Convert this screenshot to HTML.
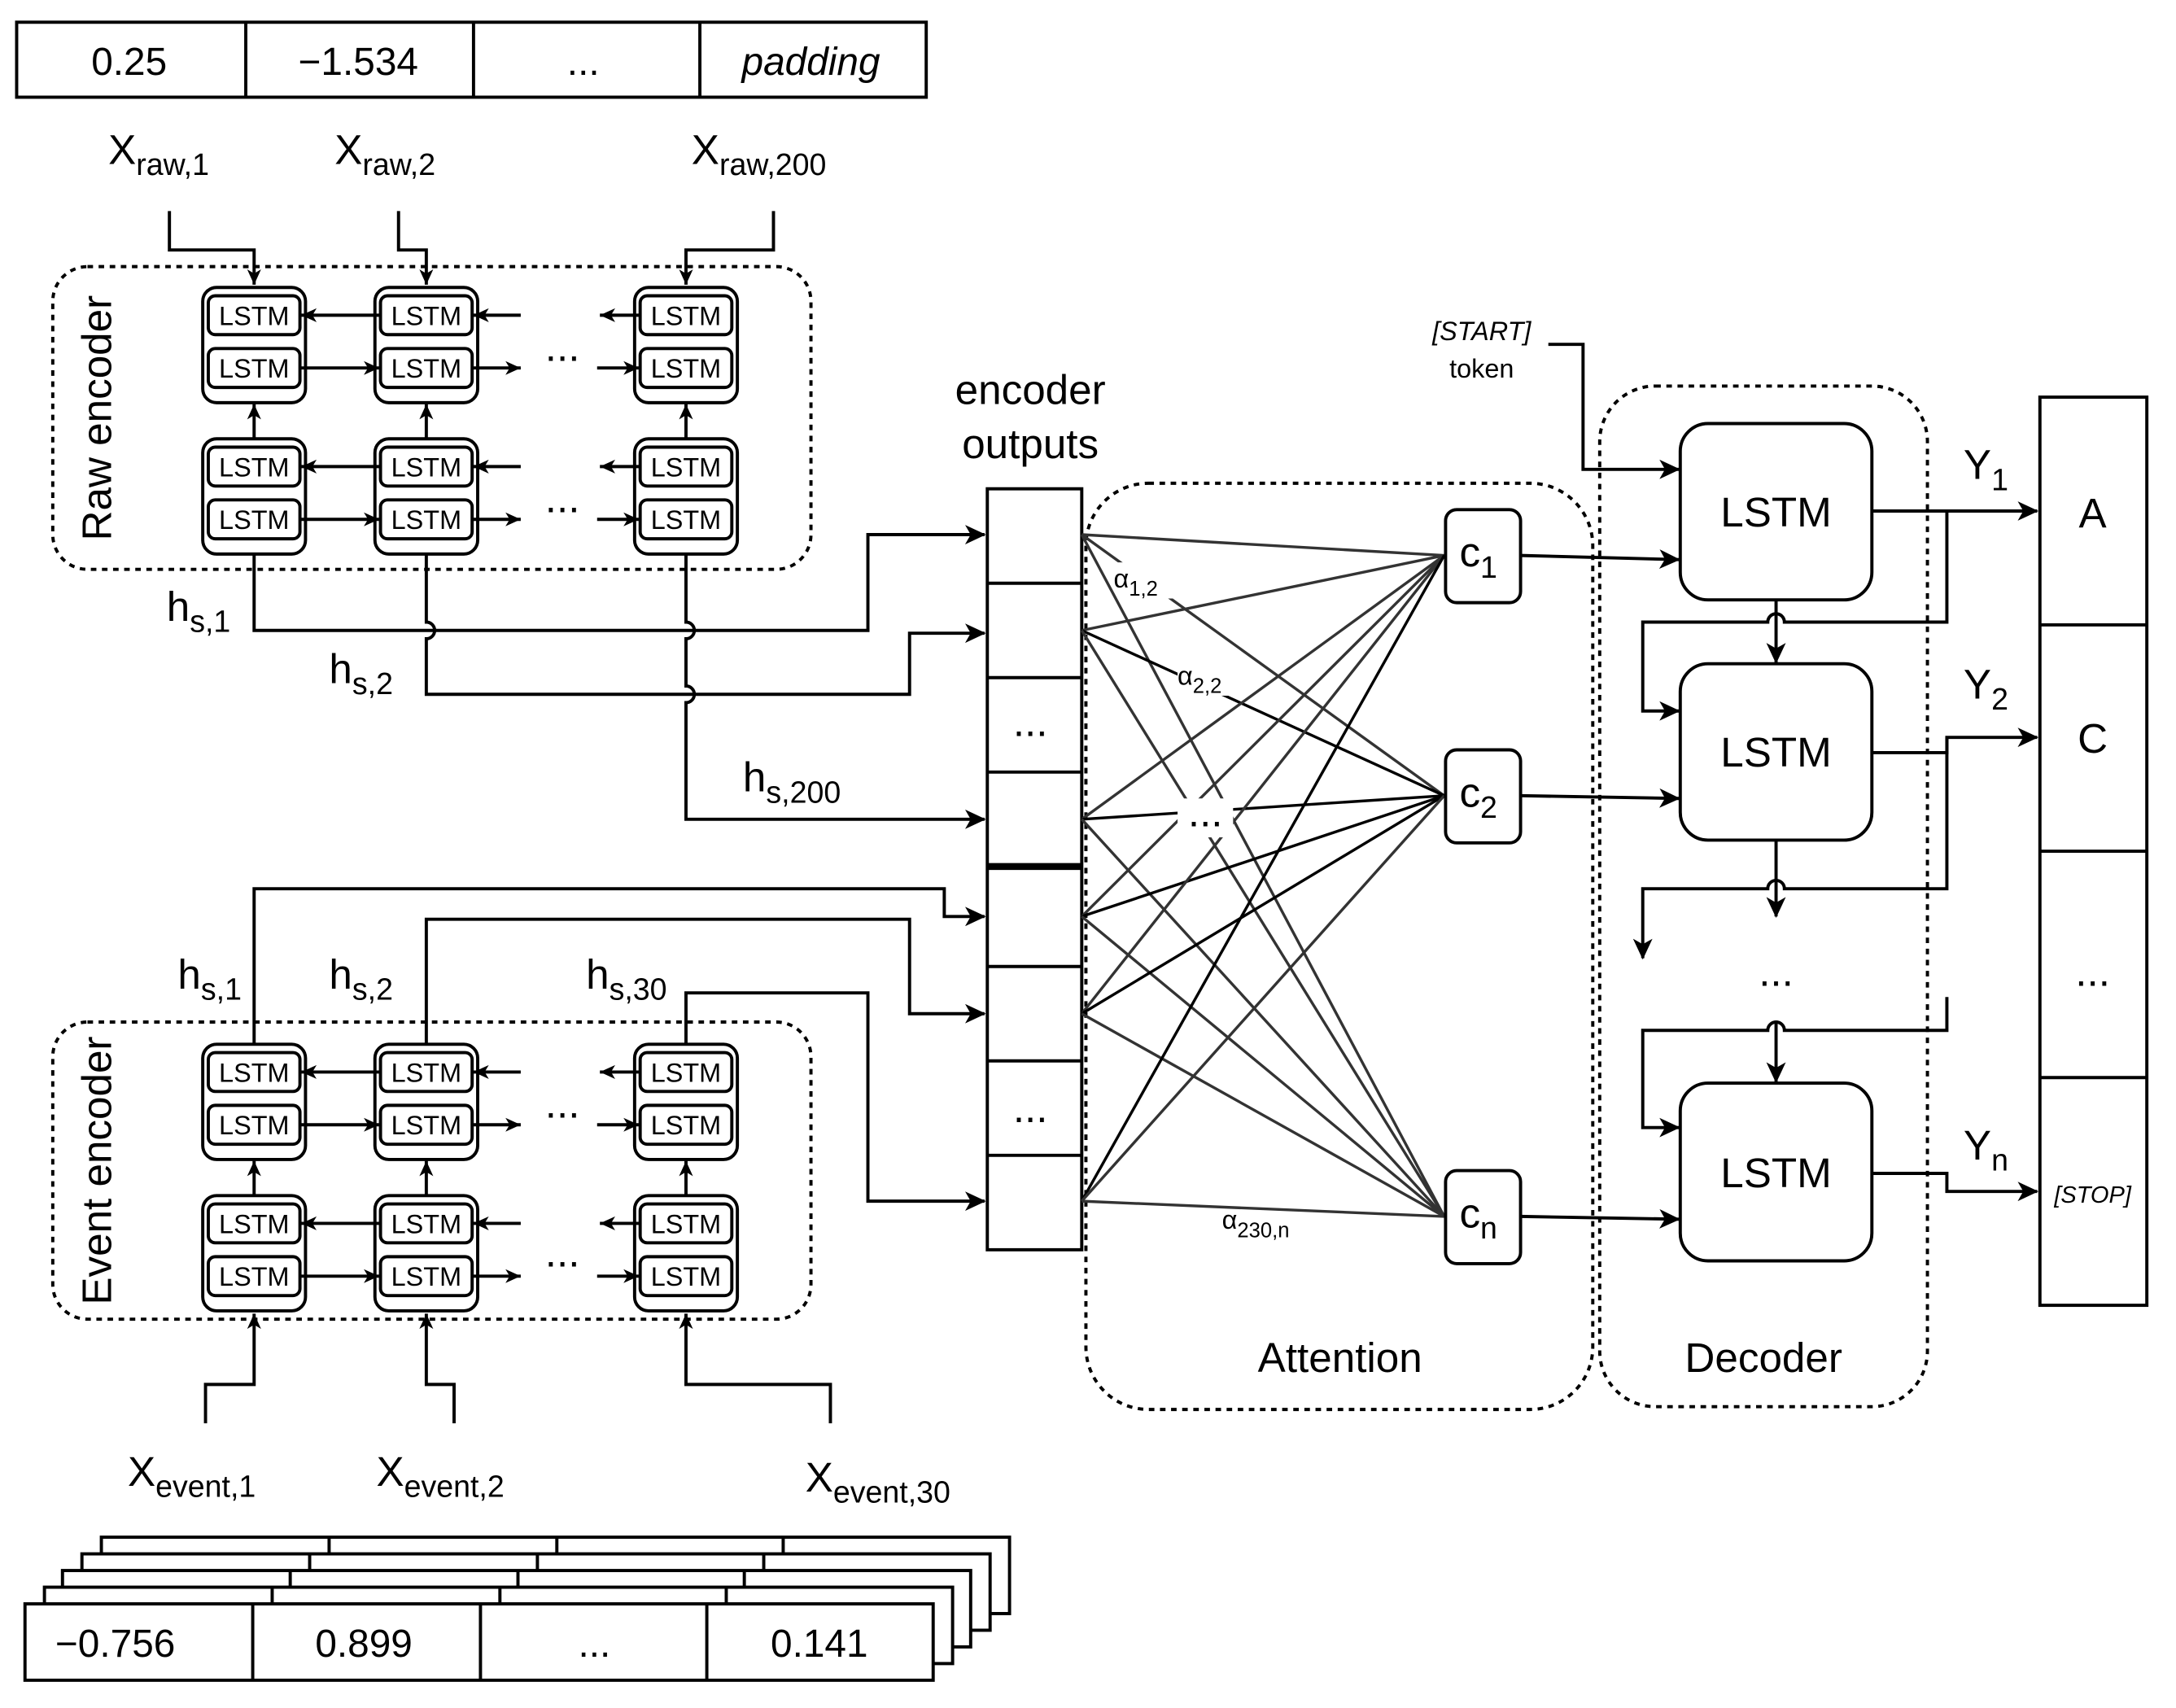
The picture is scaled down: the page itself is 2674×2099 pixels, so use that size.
<!DOCTYPE html>
<html><head><meta charset="utf-8"><style>
html,body{margin:0;padding:0;background:#fff;}
svg{display:block;}
text{font-family:"Liberation Sans",sans-serif;fill:#000;}
</style></head><body>
<svg width="2674" height="2099" viewBox="0 0 1567 1230" preserveAspectRatio="none" xmlns="http://www.w3.org/2000/svg">
<defs>
<marker id="a" markerUnits="userSpaceOnUse" markerWidth="16" markerHeight="14" refX="14" refY="7" orient="auto"><path d="M0,0 L15,7 L0,14 L4,7 z" fill="#000"/></marker>
<marker id="s" markerUnits="userSpaceOnUse" markerWidth="12" markerHeight="10" refX="11" refY="5" orient="auto"><path d="M0,0 L11,5 L0,10 L3,5 z" fill="#000"/></marker>
</defs>
<g fill="none" stroke="#000" stroke-width="2.3">
<rect x="12" y="16" width="655" height="54"/>
<line x1="177" y1="16" x2="177" y2="70"/><line x1="341" y1="16" x2="341" y2="70"/><line x1="504" y1="16" x2="504" y2="70"/>
<rect x="38" y="192" width="546" height="218" rx="25" stroke-dasharray="4,4"/>
<rect x="38" y="736" width="546" height="214" rx="25" stroke-dasharray="4,4"/>
<rect x="782" y="348" width="365" height="667" rx="45" stroke-dasharray="4,4"/>
<rect x="1152" y="278" width="236" height="735" rx="40" stroke-dasharray="4,4"/>
<path d="M122,152 V180 H183 V205" marker-end="url(#s)"/>
<path d="M287,152 V180 H307 V205" marker-end="url(#s)"/>
<path d="M557,152 V180 H494 V205" marker-end="url(#s)"/>
<path d="M148,1025 V997 H183 V946" marker-end="url(#s)"/>
<path d="M327,1025 V997 H307 V946" marker-end="url(#s)"/>
<path d="M598,1025 V997 H494 V946" marker-end="url(#s)"/>
<rect x="711" y="352" width="68" height="548"/>
<line x1="711" y1="420" x2="779" y2="420"/><line x1="711" y1="488" x2="779" y2="488"/><line x1="711" y1="556" x2="779" y2="556"/>
<line x1="711" y1="624" x2="779" y2="624" stroke-width="5"/>
<line x1="711" y1="696" x2="779" y2="696"/><line x1="711" y1="764" x2="779" y2="764"/><line x1="711" y1="832" x2="779" y2="832"/>
<path d="M183,399 V454 H625 V385 H709" marker-end="url(#a)"/>
<path d="M307,399 V448 A6,6 0 0 1 307,460 V500 H655 V456 H709" marker-end="url(#a)"/>
<path d="M494,399 V448 A6,6 0 0 1 494,460 V494 A6,6 0 0 1 494,506 V590 H709" marker-end="url(#a)"/>
<path d="M183,752 V640 H680 V660 H709" marker-end="url(#a)"/>
<path d="M307,752 V662 H655 V730 H709" marker-end="url(#a)"/>
<path d="M494,752 V715 H625 V865 H709" marker-end="url(#a)"/>
<rect x="73" y="1107" width="654" height="55" fill="#fff"/>
<rect x="59" y="1119" width="654" height="55" fill="#fff"/>
<rect x="45" y="1131" width="654" height="55" fill="#fff"/>
<rect x="32" y="1143" width="654" height="55" fill="#fff"/>
<path d="M237,1107V1119M401,1107V1119M564,1107V1119M223,1119V1131M387,1119V1131M550,1119V1131M209,1131V1143M373,1131V1143M536,1131V1143M196,1143V1155M360,1143V1155M523,1143V1155"/>
<rect x="18" y="1155" width="654" height="55" fill="#fff"/>
<line x1="182" y1="1155" x2="182" y2="1210"/><line x1="346" y1="1155" x2="346" y2="1210"/><line x1="509" y1="1155" x2="509" y2="1210"/>
</g>
<g font-size="19" text-anchor="middle">
<g transform="translate(183,207)" fill="none" stroke="#000" stroke-width="2.3"><rect x="-37" y="0" width="74" height="83" rx="10"/><rect x="-33" y="6" width="66" height="28" rx="5"/><rect x="-33" y="44" width="66" height="28" rx="5"/></g>
<g transform="translate(307,207)" fill="none" stroke="#000" stroke-width="2.3"><rect x="-37" y="0" width="74" height="83" rx="10"/><rect x="-33" y="6" width="66" height="28" rx="5"/><rect x="-33" y="44" width="66" height="28" rx="5"/></g>
<g transform="translate(494,207)" fill="none" stroke="#000" stroke-width="2.3"><rect x="-37" y="0" width="74" height="83" rx="10"/><rect x="-33" y="6" width="66" height="28" rx="5"/><rect x="-33" y="44" width="66" height="28" rx="5"/></g>
<g transform="translate(183,316)" fill="none" stroke="#000" stroke-width="2.3"><rect x="-37" y="0" width="74" height="83" rx="10"/><rect x="-33" y="6" width="66" height="28" rx="5"/><rect x="-33" y="44" width="66" height="28" rx="5"/></g>
<g transform="translate(307,316)" fill="none" stroke="#000" stroke-width="2.3"><rect x="-37" y="0" width="74" height="83" rx="10"/><rect x="-33" y="6" width="66" height="28" rx="5"/><rect x="-33" y="44" width="66" height="28" rx="5"/></g>
<g transform="translate(494,316)" fill="none" stroke="#000" stroke-width="2.3"><rect x="-37" y="0" width="74" height="83" rx="10"/><rect x="-33" y="6" width="66" height="28" rx="5"/><rect x="-33" y="44" width="66" height="28" rx="5"/></g>
<g transform="translate(183,752)" fill="none" stroke="#000" stroke-width="2.3"><rect x="-37" y="0" width="74" height="83" rx="10"/><rect x="-33" y="6" width="66" height="28" rx="5"/><rect x="-33" y="44" width="66" height="28" rx="5"/></g>
<g transform="translate(307,752)" fill="none" stroke="#000" stroke-width="2.3"><rect x="-37" y="0" width="74" height="83" rx="10"/><rect x="-33" y="6" width="66" height="28" rx="5"/><rect x="-33" y="44" width="66" height="28" rx="5"/></g>
<g transform="translate(494,752)" fill="none" stroke="#000" stroke-width="2.3"><rect x="-37" y="0" width="74" height="83" rx="10"/><rect x="-33" y="6" width="66" height="28" rx="5"/><rect x="-33" y="44" width="66" height="28" rx="5"/></g>
<g transform="translate(183,861)" fill="none" stroke="#000" stroke-width="2.3"><rect x="-37" y="0" width="74" height="83" rx="10"/><rect x="-33" y="6" width="66" height="28" rx="5"/><rect x="-33" y="44" width="66" height="28" rx="5"/></g>
<g transform="translate(307,861)" fill="none" stroke="#000" stroke-width="2.3"><rect x="-37" y="0" width="74" height="83" rx="10"/><rect x="-33" y="6" width="66" height="28" rx="5"/><rect x="-33" y="44" width="66" height="28" rx="5"/></g>
<g transform="translate(494,861)" fill="none" stroke="#000" stroke-width="2.3"><rect x="-37" y="0" width="74" height="83" rx="10"/><rect x="-33" y="6" width="66" height="28" rx="5"/><rect x="-33" y="44" width="66" height="28" rx="5"/></g>
<text x="183" y="234">LSTM</text><text x="183" y="272">LSTM</text>
<text x="307" y="234">LSTM</text><text x="307" y="272">LSTM</text>
<text x="494" y="234">LSTM</text><text x="494" y="272">LSTM</text>
<text x="183" y="343">LSTM</text><text x="183" y="381">LSTM</text>
<text x="307" y="343">LSTM</text><text x="307" y="381">LSTM</text>
<text x="494" y="343">LSTM</text><text x="494" y="381">LSTM</text>
<text x="183" y="779">LSTM</text><text x="183" y="817">LSTM</text>
<text x="307" y="779">LSTM</text><text x="307" y="817">LSTM</text>
<text x="494" y="779">LSTM</text><text x="494" y="817">LSTM</text>
<text x="183" y="888">LSTM</text><text x="183" y="926">LSTM</text>
<text x="307" y="888">LSTM</text><text x="307" y="926">LSTM</text>
<text x="494" y="888">LSTM</text><text x="494" y="926">LSTM</text>
</g>
<g fill="none" stroke="#000" stroke-width="2.3" marker-end="url(#s)">
<path d="M274,227 H217"/><path d="M375,227 H341"/><path d="M461,227 H432"/>
<path d="M216,265 H273"/><path d="M340,265 H375"/><path d="M430,265 H460"/>
<path d="M274,336 H217"/><path d="M375,336 H341"/><path d="M461,336 H432"/>
<path d="M216,374 H273"/><path d="M340,374 H375"/><path d="M430,374 H460"/>
<path d="M183,316 V291"/><path d="M307,316 V291"/><path d="M494,316 V291"/>
<path d="M274,772 H217"/><path d="M375,772 H341"/><path d="M461,772 H432"/>
<path d="M216,810 H273"/><path d="M340,810 H375"/><path d="M430,810 H460"/>
<path d="M274,881 H217"/><path d="M375,881 H341"/><path d="M461,881 H432"/>
<path d="M216,919 H273"/><path d="M340,919 H375"/><path d="M430,919 H460"/>
<path d="M183,861 V836"/><path d="M307,861 V836"/><path d="M494,861 V836"/>
</g>
<g stroke="#333" stroke-width="2">
<line x1="779" y1="385" x2="1040" y2="400"/><line x1="779" y1="385" x2="1040" y2="573"/><line x1="779" y1="385" x2="1040" y2="876"/>
<line x1="779" y1="454" x2="1040" y2="400"/><line x1="779" y1="454" x2="1040" y2="573" stroke="#000"/><line x1="779" y1="454" x2="1040" y2="876"/>
<line x1="779" y1="590" x2="1040" y2="400"/><line x1="779" y1="590" x2="1040" y2="573" stroke="#000"/><line x1="779" y1="590" x2="1040" y2="876"/>
<line x1="779" y1="660" x2="1040" y2="400"/><line x1="779" y1="660" x2="1040" y2="573" stroke="#000"/><line x1="779" y1="660" x2="1040" y2="876"/>
<line x1="779" y1="730" x2="1040" y2="400"/><line x1="779" y1="730" x2="1040" y2="573" stroke="#000"/><line x1="779" y1="730" x2="1040" y2="876"/>
<line x1="779" y1="865" x2="1040" y2="400" stroke="#000"/><line x1="779" y1="865" x2="1040" y2="573"/><line x1="779" y1="865" x2="1040" y2="876"/>
</g>
<rect x="848" y="575" width="40" height="28" fill="#fff"/>
<rect x="805" y="405" width="40" height="26" fill="#fff"/>
<rect x="848" y="475" width="46" height="26" fill="#fff"/>
<g fill="#fff" stroke="#000" stroke-width="2.3">
<rect x="1041" y="367" width="54" height="67" rx="8"/>
<rect x="1041" y="540" width="54" height="67" rx="8"/>
<rect x="1041" y="843" width="54" height="67" rx="8"/>
<rect x="1210" y="305" width="138" height="127" rx="20"/>
<rect x="1210" y="478" width="138" height="127" rx="20"/>
<rect x="1210" y="780" width="138" height="128" rx="20"/>
<rect x="1469" y="286" width="77" height="654"/>
</g>
<g stroke="#000" stroke-width="2.3" fill="none">
<line x1="1469" y1="450" x2="1546" y2="450"/><line x1="1469" y1="613" x2="1546" y2="613"/><line x1="1469" y1="776" x2="1546" y2="776"/>
</g>
<g fill="none" stroke="#000" stroke-width="2.3" marker-end="url(#a)">
<path d="M1095,400 L1209,403"/><path d="M1095,573 L1209,575"/><path d="M1095,876 L1209,878"/>
<path d="M1115,248 H1140 V338 H1209"/>
<path d="M1348,368 H1467"/>
<path d="M1402,368 V448 H1285 A6,6 0 0 0 1273,448 H1183 V512 H1209"/>
<path d="M1279,432 V477"/>
<path d="M1348,542 H1402 V531 H1467"/>
<path d="M1402,531 V640 H1285 A6,6 0 0 0 1273,640 H1183 V690"/>
<path d="M1279,605 V660"/>
<path d="M1402,718 V742 H1285 A6,6 0 0 0 1273,742 H1183 V812 H1209"/>
<path d="M1279,735 V779"/>
<path d="M1348,845 H1402 V858 H1467"/>
</g>
<g font-size="28" text-anchor="middle">
<text x="93" y="54">0.25</text><text x="258" y="54">−1.534</text><text x="420" y="54">...</text><text x="584" y="54" font-style="italic">padding</text>
<text x="83" y="1193">−0.756</text><text x="262" y="1193">0.899</text><text x="428" y="1193">...</text><text x="590" y="1193">0.141</text>
</g>
<g font-size="30">
<text x="78" y="118">X<tspan font-size="22" dy="8">raw,1</tspan></text>
<text x="241" y="118">X<tspan font-size="22" dy="8">raw,2</tspan></text>
<text x="498" y="118">X<tspan font-size="22" dy="8">raw,200</tspan></text>
<text x="92" y="1070">X<tspan font-size="22" dy="8">event,1</tspan></text>
<text x="271" y="1070">X<tspan font-size="22" dy="8">event,2</tspan></text>
<text x="580" y="1074">X<tspan font-size="22" dy="8">event,30</tspan></text>
<text x="120" y="447">h<tspan font-size="22" dy="8">s,1</tspan></text>
<text x="237" y="492">h<tspan font-size="22" dy="8">s,2</tspan></text>
<text x="535" y="570">h<tspan font-size="22" dy="8">s,200</tspan></text>
<text x="128" y="712">h<tspan font-size="22" dy="8">s,1</tspan></text>
<text x="237" y="712">h<tspan font-size="22" dy="8">s,2</tspan></text>
<text x="422" y="712">h<tspan font-size="22" dy="8">s,30</tspan></text>
<text x="1414" y="345">Y<tspan font-size="22" dy="8">1</tspan></text>
<text x="1414" y="503">Y<tspan font-size="22" dy="8">2</tspan></text>
<text x="1414" y="835">Y<tspan font-size="22" dy="8">n</tspan></text>
<text x="1051" y="408">c<tspan font-size="22" dy="8">1</tspan></text>
<text x="1051" y="581">c<tspan font-size="22" dy="8">2</tspan></text>
<text x="1051" y="884">c<tspan font-size="22" dy="8">n</tspan></text>
</g>
<g font-size="19">
<text x="802" y="423">α<tspan font-size="15" dy="6">1,2</tspan></text>
<text x="848" y="493">α<tspan font-size="15" dy="6">2,2</tspan></text>
<text x="880" y="885">α<tspan font-size="15" dy="6">230,n</tspan></text>
</g>
<g font-size="30" text-anchor="middle">
<text x="742" y="291">encoder</text><text x="742" y="330">outputs</text>
<text x="742" y="530">...</text><text x="742" y="808">...</text>
<text x="868" y="595">...</text>
<text x="405" y="260">...</text><text x="405" y="369">...</text>
<text x="405" y="805">...</text><text x="405" y="912">...</text>
<text x="965" y="988">Attention</text><text x="1270" y="988">Decoder</text>
<text x="1279" y="379">LSTM</text><text x="1279" y="552">LSTM</text><text x="1279" y="855">LSTM</text>
<text x="1279" y="710">...</text>
<text x="1507" y="380">A</text><text x="1507" y="542">C</text><text x="1507" y="710">...</text>
<text transform="translate(80,301) rotate(-90)">Raw encoder</text>
<text transform="translate(80,843) rotate(-90)">Event encoder</text>
</g>
<g font-size="19" text-anchor="middle">
<text x="1067" y="245" font-style="italic">[START]</text><text x="1067" y="272">token</text>
<text x="1507" y="866" font-size="17" font-style="italic">[STOP]</text>
</g>
</svg>
</body></html>
